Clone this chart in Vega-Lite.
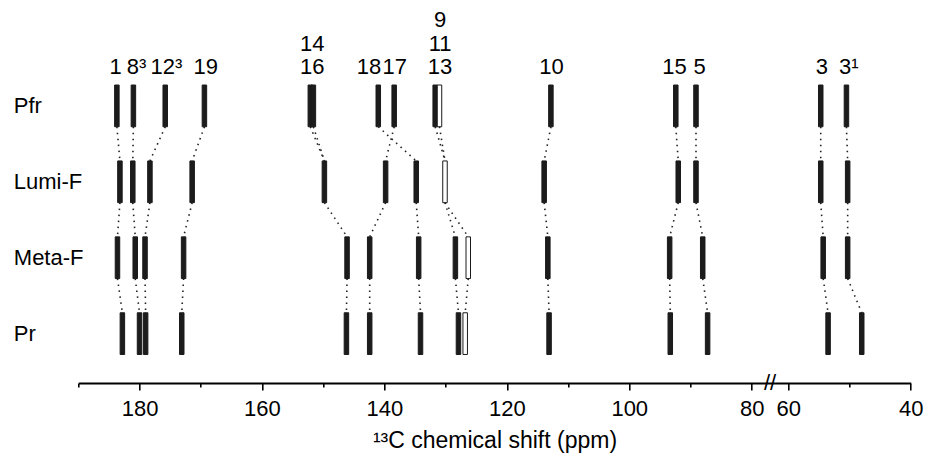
{
  "$schema": "https://vega.github.io/schema/vega-lite/v6.json",
  "width": 832.4,
  "height": 326.5,
  "autosize": {"type": "none"},
  "padding": {"left": 78.3, "top": 56.5, "right": 15.3, "bottom": 72},
  "background": "white",
  "config": {"view": {"stroke": null}, "font": "Liberation Sans"},
  "resolve": {"axis": {"x": "independent", "y": "independent"}},
  "datasets": {
    "peaks": [
      {"state": "Pfr", "carbon": "1", "ppm": 183.7, "kind": "filled"},
      {"state": "Pfr", "carbon": "8³", "ppm": 181.0, "kind": "filled"},
      {"state": "Pfr", "carbon": "12³", "ppm": 175.8, "kind": "filled"},
      {"state": "Pfr", "carbon": "19", "ppm": 169.4, "kind": "filled"},
      {"state": "Pfr", "carbon": "14", "ppm": 152.1, "kind": "filled"},
      {"state": "Pfr", "carbon": "16", "ppm": 151.6, "kind": "filled"},
      {"state": "Pfr", "carbon": "18", "ppm": 141.0, "kind": "filled"},
      {"state": "Pfr", "carbon": "17", "ppm": 138.4, "kind": "filled"},
      {"state": "Pfr", "carbon": "9/11/13 a", "ppm": 131.7, "kind": "filled"},
      {"state": "Pfr", "carbon": "9/11/13 b", "ppm": 131.0, "kind": "open"},
      {"state": "Pfr", "carbon": "10", "ppm": 112.8, "kind": "filled"},
      {"state": "Pfr", "carbon": "15", "ppm": 92.4, "kind": "filled"},
      {"state": "Pfr", "carbon": "5", "ppm": 89.1, "kind": "filled"},
      {"state": "Pfr", "carbon": "3", "ppm": 54.7, "kind": "filled"},
      {"state": "Pfr", "carbon": "3¹", "ppm": 50.5, "kind": "filled"},
      {"state": "Lumi-F", "carbon": "1", "ppm": 183.2, "kind": "filled"},
      {"state": "Lumi-F", "carbon": "8³", "ppm": 181.1, "kind": "filled"},
      {"state": "Lumi-F", "carbon": "12³", "ppm": 178.3, "kind": "filled"},
      {"state": "Lumi-F", "carbon": "19", "ppm": 171.4, "kind": "filled"},
      {"state": "Lumi-F", "carbon": "14/16", "ppm": 149.8, "kind": "filled"},
      {"state": "Lumi-F", "carbon": "17", "ppm": 139.8, "kind": "filled"},
      {"state": "Lumi-F", "carbon": "18", "ppm": 134.8, "kind": "filled"},
      {"state": "Lumi-F", "carbon": "9/11/13", "ppm": 130.1, "kind": "open"},
      {"state": "Lumi-F", "carbon": "10", "ppm": 113.9, "kind": "filled"},
      {"state": "Lumi-F", "carbon": "15", "ppm": 92.0, "kind": "filled"},
      {"state": "Lumi-F", "carbon": "5", "ppm": 89.1, "kind": "filled"},
      {"state": "Lumi-F", "carbon": "3", "ppm": 54.7, "kind": "filled"},
      {"state": "Lumi-F", "carbon": "3¹", "ppm": 50.3, "kind": "filled"},
      {"state": "Meta-F", "carbon": "1", "ppm": 183.6, "kind": "filled"},
      {"state": "Meta-F", "carbon": "8³", "ppm": 180.7, "kind": "filled"},
      {"state": "Meta-F", "carbon": "12³", "ppm": 179.1, "kind": "filled"},
      {"state": "Meta-F", "carbon": "19", "ppm": 172.8, "kind": "filled"},
      {"state": "Meta-F", "carbon": "14/16", "ppm": 146.1, "kind": "filled"},
      {"state": "Meta-F", "carbon": "17", "ppm": 142.4, "kind": "filled"},
      {"state": "Meta-F", "carbon": "18", "ppm": 134.4, "kind": "filled"},
      {"state": "Meta-F", "carbon": "9/11/13 a", "ppm": 128.4, "kind": "filled"},
      {"state": "Meta-F", "carbon": "9/11/13 b", "ppm": 126.3, "kind": "open"},
      {"state": "Meta-F", "carbon": "10", "ppm": 113.3, "kind": "filled"},
      {"state": "Meta-F", "carbon": "15", "ppm": 93.4, "kind": "filled"},
      {"state": "Meta-F", "carbon": "5", "ppm": 88.0, "kind": "filled"},
      {"state": "Meta-F", "carbon": "3", "ppm": 54.3, "kind": "filled"},
      {"state": "Meta-F", "carbon": "3¹", "ppm": 50.3, "kind": "filled"},
      {"state": "Pr", "carbon": "1", "ppm": 182.8, "kind": "filled"},
      {"state": "Pr", "carbon": "8³", "ppm": 180.0, "kind": "filled"},
      {"state": "Pr", "carbon": "12³", "ppm": 179.0, "kind": "filled"},
      {"state": "Pr", "carbon": "19", "ppm": 173.1, "kind": "filled"},
      {"state": "Pr", "carbon": "14/16", "ppm": 146.2, "kind": "filled"},
      {"state": "Pr", "carbon": "17", "ppm": 142.4, "kind": "filled"},
      {"state": "Pr", "carbon": "18", "ppm": 134.1, "kind": "filled"},
      {"state": "Pr", "carbon": "9/11/13 a", "ppm": 127.9, "kind": "filled"},
      {"state": "Pr", "carbon": "9/11/13 b", "ppm": 126.8, "kind": "open"},
      {"state": "Pr", "carbon": "10", "ppm": 113.1, "kind": "filled"},
      {"state": "Pr", "carbon": "15", "ppm": 93.3, "kind": "filled"},
      {"state": "Pr", "carbon": "5", "ppm": 87.2, "kind": "filled"},
      {"state": "Pr", "carbon": "3", "ppm": 53.5, "kind": "filled"},
      {"state": "Pr", "carbon": "3¹", "ppm": 48.0, "kind": "filled"}
    ],
    "links": [
      {"s1": "Pfr", "s2": "Lumi-F", "p1": 183.7, "p2": 183.2},
      {"s1": "Pfr", "s2": "Lumi-F", "p1": 181.0, "p2": 181.1},
      {"s1": "Pfr", "s2": "Lumi-F", "p1": 175.8, "p2": 178.3},
      {"s1": "Pfr", "s2": "Lumi-F", "p1": 169.4, "p2": 171.4},
      {"s1": "Pfr", "s2": "Lumi-F", "p1": 152.1, "p2": 149.8},
      {"s1": "Pfr", "s2": "Lumi-F", "p1": 151.6, "p2": 149.8},
      {"s1": "Pfr", "s2": "Lumi-F", "p1": 141.0, "p2": 134.8},
      {"s1": "Pfr", "s2": "Lumi-F", "p1": 138.4, "p2": 139.8},
      {"s1": "Pfr", "s2": "Lumi-F", "p1": 131.7, "p2": 130.1},
      {"s1": "Pfr", "s2": "Lumi-F", "p1": 131.0, "p2": 130.1},
      {"s1": "Pfr", "s2": "Lumi-F", "p1": 112.8, "p2": 113.9},
      {"s1": "Pfr", "s2": "Lumi-F", "p1": 92.4, "p2": 92.0},
      {"s1": "Pfr", "s2": "Lumi-F", "p1": 89.1, "p2": 89.1},
      {"s1": "Pfr", "s2": "Lumi-F", "p1": 54.7, "p2": 54.7},
      {"s1": "Pfr", "s2": "Lumi-F", "p1": 50.5, "p2": 50.3},
      {"s1": "Lumi-F", "s2": "Meta-F", "p1": 183.2, "p2": 183.6},
      {"s1": "Lumi-F", "s2": "Meta-F", "p1": 181.1, "p2": 180.7},
      {"s1": "Lumi-F", "s2": "Meta-F", "p1": 178.3, "p2": 179.1},
      {"s1": "Lumi-F", "s2": "Meta-F", "p1": 171.4, "p2": 172.8},
      {"s1": "Lumi-F", "s2": "Meta-F", "p1": 149.8, "p2": 146.1},
      {"s1": "Lumi-F", "s2": "Meta-F", "p1": 139.8, "p2": 142.4},
      {"s1": "Lumi-F", "s2": "Meta-F", "p1": 134.8, "p2": 134.4},
      {"s1": "Lumi-F", "s2": "Meta-F", "p1": 130.1, "p2": 128.4},
      {"s1": "Lumi-F", "s2": "Meta-F", "p1": 130.1, "p2": 126.3},
      {"s1": "Lumi-F", "s2": "Meta-F", "p1": 113.9, "p2": 113.3},
      {"s1": "Lumi-F", "s2": "Meta-F", "p1": 92.0, "p2": 93.4},
      {"s1": "Lumi-F", "s2": "Meta-F", "p1": 89.1, "p2": 88.0},
      {"s1": "Lumi-F", "s2": "Meta-F", "p1": 54.7, "p2": 54.3},
      {"s1": "Lumi-F", "s2": "Meta-F", "p1": 50.3, "p2": 50.3},
      {"s1": "Meta-F", "s2": "Pr", "p1": 183.6, "p2": 182.8},
      {"s1": "Meta-F", "s2": "Pr", "p1": 180.7, "p2": 180.0},
      {"s1": "Meta-F", "s2": "Pr", "p1": 179.1, "p2": 179.0},
      {"s1": "Meta-F", "s2": "Pr", "p1": 172.8, "p2": 173.1},
      {"s1": "Meta-F", "s2": "Pr", "p1": 146.1, "p2": 146.2},
      {"s1": "Meta-F", "s2": "Pr", "p1": 142.4, "p2": 142.4},
      {"s1": "Meta-F", "s2": "Pr", "p1": 134.4, "p2": 134.1},
      {"s1": "Meta-F", "s2": "Pr", "p1": 128.4, "p2": 127.9},
      {"s1": "Meta-F", "s2": "Pr", "p1": 126.3, "p2": 126.8},
      {"s1": "Meta-F", "s2": "Pr", "p1": 113.3, "p2": 113.1},
      {"s1": "Meta-F", "s2": "Pr", "p1": 93.4, "p2": 93.3},
      {"s1": "Meta-F", "s2": "Pr", "p1": 88.0, "p2": 87.2},
      {"s1": "Meta-F", "s2": "Pr", "p1": 54.3, "p2": 53.5},
      {"s1": "Meta-F", "s2": "Pr", "p1": 50.3, "p2": 48.0}
    ],
    "labels": [
      {"state": "Pfr", "label": "1", "ppm": 183.9},
      {"state": "Pfr", "label": "8³", "ppm": 180.5},
      {"state": "Pfr", "label": "12³", "ppm": 175.6},
      {"state": "Pfr", "label": "19", "ppm": 169.2},
      {"state": "Pfr", "label": "14\n16", "ppm": 151.8},
      {"state": "Pfr", "label": "18", "ppm": 142.5},
      {"state": "Pfr", "label": "17", "ppm": 138.3},
      {"state": "Pfr", "label": "9\n11\n13", "ppm": 130.9},
      {"state": "Pfr", "label": "10", "ppm": 112.7},
      {"state": "Pfr", "label": "15", "ppm": 92.6},
      {"state": "Pfr", "label": "5", "ppm": 88.5},
      {"state": "Pfr", "label": "3", "ppm": 54.5},
      {"state": "Pfr", "label": "3¹", "ppm": 50.1}
    ]
  },
  "layer": [
    {
      "data": {"name": "links"},
      "mark": {"type": "rule", "strokeDash": [1.5, 4.5], "strokeWidth": 1.6, "color": "#222222"},
      "encoding": {
        "x": {"field": "p1", "type": "quantitative",
              "scale": {"domain": [190, 80, 60, 40], "range": [0, 673.4, 710, 832.4], "nice": false, "zero": false},
              "axis": {"orient": "bottom", "values": [190, 170, 150, 130, 110, 90, 50], "labels": false, "domain": false,
                       "title": null, "tickSize": 4, "tickWidth": 1.6, "tickColor": "black", "grid": false}},
        "x2": {"field": "p2"},
        "y": {"field": "s1", "type": "nominal", "bandPosition": 1,
              "scale": {"type": "band", "domain": ["Pfr", "Lumi-F", "Meta-F", "Pr"], "paddingInner": 0.45, "paddingOuter": 0.3755},
              "axis": {"orient": "left", "title": null, "domain": false, "ticks": false, "grid": false,
                       "labelAlign": "left", "labelPadding": 65, "labelBaseline": "middle",
                       "labelFontSize": 22, "labelColor": "black", "labelFont": "Liberation Sans", "labelLimit": 200}},
        "y2": {"field": "s2", "bandPosition": 0}
      }
    },
    {
      "data": {"name": "peaks"},
      "mark": {"type": "tick", "thickness": 4.5, "size": 41.7, "stroke": "#1a1a1a", "strokeWidth": 1, "opacity": 1},
      "encoding": {
        "x": {"field": "ppm", "type": "quantitative",
              "scale": {"domain": [190, 80, 60, 40], "range": [0, 673.4, 710, 832.4], "nice": false, "zero": false},
              "axis": {
                "orient": "bottom",
                "title": "¹³C chemical shift (ppm)",
                "values": [180, 160, 140, 120, 100, 80, 60, 40],
                "tickSize": 7,
                "tickWidth": 1.6, "tickColor": "black",
                "domainColor": "black", "domainWidth": 2,
                "labelFontSize": 22, "labelColor": "black", "labelFont": "Liberation Sans",
                "labelPadding": 8, "labelFlush": false, "labelOverlap": false,
                "titleFontSize": 23, "titleFontWeight": "normal", "titleColor": "black", "titleFont": "Liberation Sans",
                "titlePadding": 10, "grid": false
              }},
        "y": {"field": "state", "type": "nominal", "axis": null,
              "scale": {"type": "band", "domain": ["Pfr", "Lumi-F", "Meta-F", "Pr"], "paddingInner": 0.45, "paddingOuter": 0.3755}},
        "fill": {"field": "kind", "type": "nominal", "legend": null,
                 "scale": {"domain": ["filled", "open"], "range": ["#1c1c1c", "#ffffff"]}}
      }
    },
    {
      "data": {"name": "labels"},
      "transform": [{"filter": "split(datum.label, '\\n').length === 1"}],
      "mark": {"type": "text", "fontSize": 22, "font": "Liberation Sans", "baseline": "bottom", "align": "center",
               "lineBreak": "\n", "lineHeight": 23.4, "dy": -6, "color": "black"},
      "encoding": {
        "x": {"field": "ppm", "type": "quantitative", "axis": null,
              "scale": {"domain": [190, 80, 60, 40], "range": [0, 673.4, 710, 832.4], "nice": false, "zero": false}},
        "y": {"field": "state", "type": "nominal", "axis": null, "bandPosition": 0,
              "scale": {"type": "band", "domain": ["Pfr", "Lumi-F", "Meta-F", "Pr"], "paddingInner": 0.45, "paddingOuter": 0.3755}},
        "text": {"field": "label"}
      }
    },
    {
      "data": {"name": "labels"},
      "transform": [{"filter": "split(datum.label, '\\n').length === 2"}],
      "mark": {"type": "text", "fontSize": 22, "font": "Liberation Sans", "baseline": "bottom", "align": "center",
               "lineBreak": "\n", "lineHeight": 23.4, "dy": -29.4, "color": "black"},
      "encoding": {
        "x": {"field": "ppm", "type": "quantitative", "axis": null,
              "scale": {"domain": [190, 80, 60, 40], "range": [0, 673.4, 710, 832.4], "nice": false, "zero": false}},
        "y": {"field": "state", "type": "nominal", "axis": null, "bandPosition": 0,
              "scale": {"type": "band", "domain": ["Pfr", "Lumi-F", "Meta-F", "Pr"], "paddingInner": 0.45, "paddingOuter": 0.3755}},
        "text": {"field": "label"}
      }
    },
    {
      "data": {"name": "labels"},
      "transform": [{"filter": "split(datum.label, '\\n').length === 3"}],
      "mark": {"type": "text", "fontSize": 22, "font": "Liberation Sans", "baseline": "bottom", "align": "center",
               "lineBreak": "\n", "lineHeight": 23.4, "dy": -52.8, "color": "black"},
      "encoding": {
        "x": {"field": "ppm", "type": "quantitative", "axis": null,
              "scale": {"domain": [190, 80, 60, 40], "range": [0, 673.4, 710, 832.4], "nice": false, "zero": false}},
        "y": {"field": "state", "type": "nominal", "axis": null, "bandPosition": 0,
              "scale": {"type": "band", "domain": ["Pfr", "Lumi-F", "Meta-F", "Pr"], "paddingInner": 0.45, "paddingOuter": 0.3755}},
        "text": {"field": "label"}
      }
    },
    {
      "data": {"values": [{"axis_break": "80 to 60"}]},
      "mark": {"type": "text", "text": "//", "fontSize": 22, "font": "Liberation Sans", "baseline": "middle", "align": "center", "color": "black"},
      "encoding": {
        "x": {"datum": 70, "type": "quantitative", "axis": null,
              "scale": {"domain": [190, 80, 60, 40], "range": [0, 673.4, 710, 832.4], "nice": false, "zero": false}},
        "y": {"value": "height"}
      }
    }
  ]
}
